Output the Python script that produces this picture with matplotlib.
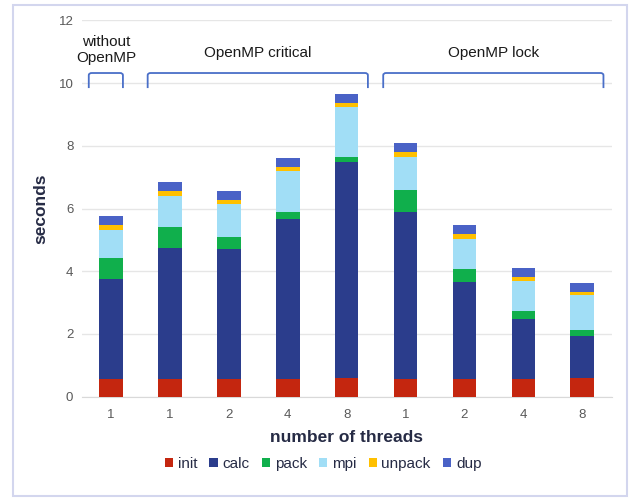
import numpy as np
import matplotlib.pyplot as plt
from matplotlib.path import Path
from matplotlib.patches import PathPatch, Rectangle

plt.rcParams['font.family'] = ['Liberation Sans', 'DejaVu Sans']

# data (seconds), one value per bar
threads = ['1', '1', '2', '4', '8', '1', '2', '4', '8']
init = [0.55, 0.55, 0.55, 0.55, 0.60, 0.55, 0.55, 0.55, 0.60]
calc = [3.20, 4.19, 4.16, 5.11, 6.88, 5.33, 3.12, 1.93, 1.34]
pack = [0.68, 0.68, 0.37, 0.23, 0.17, 0.71, 0.40, 0.24, 0.19]
mpi = [0.88, 0.98, 1.05, 1.30, 1.60, 1.06, 0.97, 0.97, 1.10]
unpack = [0.17, 0.17, 0.13, 0.12, 0.10, 0.15, 0.14, 0.14, 0.11]
dup = [0.28, 0.26, 0.29, 0.29, 0.29, 0.28, 0.28, 0.27, 0.29]

series = [('init', init, '#C4260F'),
          ('calc', calc, '#2B3D8C'),
          ('pack', pack, '#10AF4C'),
          ('mpi', mpi, '#A1DEF6'),
          ('unpack', unpack, '#FFC000'),
          ('dup', dup, '#4A62C6')]

# group labels over the bars: (label, first bar, last bar)
groups = [('without\nOpenMP', 0, 0), ('OpenMP critical', 1, 4), ('OpenMP lock', 5, 8)]

fig = plt.figure(figsize=(6.29, 4.98), dpi=100)
ax = fig.add_axes([0.1299, 0.2034, 0.8426, 0.7558])

x = np.arange(len(threads))
bottom = np.zeros(len(threads))
for name, vals, color in series:
    ax.bar(x, vals, 0.4, bottom=bottom, color=color, label=name, zorder=3)
    bottom += np.array(vals)

ax.set_xlim(-0.5, len(threads) - 0.5)
ax.set_ylim(0, 12)
ax.set_yticks(range(0, 13, 2))
ax.set_xticks(x)
ax.set_xticklabels(threads)
ax.tick_params(length=0, labelsize=9.5, colors='#595959', pad=9)
ax.tick_params(axis='y', pad=6)
ax.grid(axis='y', color='#E6E6E6', linewidth=1, zorder=0)
for s in ['top', 'right', 'left']:
    ax.spines[s].set_visible(False)
ax.spines['bottom'].set_color('#D9D9D9')

ax.set_xlabel('number of threads', fontsize=12.5, fontweight='bold', color='#262B45', labelpad=6)
ax.set_ylabel('seconds', fontsize=12.5, fontweight='bold', color='#262B45', labelpad=7)

# brackets with small rounded corners
top, leg, rx, ry = 10.32, 9.84, 0.05, 0.07
for label, a, b in groups:
    x0 = a - 0.38
    x1 = b + (0.2 if a == b else 0.36)
    verts = [(x0, leg), (x0, top - ry), (x0, top), (x0 + rx, top),
             (x1 - rx, top), (x1, top), (x1, top - ry), (x1, leg)]
    codes = [Path.MOVETO, Path.LINETO, Path.CURVE3, Path.CURVE3,
             Path.LINETO, Path.CURVE3, Path.CURVE3, Path.LINETO]
    ax.add_patch(PathPatch(Path(verts, codes), fill=False, edgecolor='#4A6FC8',
                           linewidth=1.3, zorder=4, clip_on=False))
    ty = 11.05 if '\n' in label else 10.95
    ax.text((x0 + x1) / 2, ty, label, ha='center', va='center', fontsize=11,
            color='#1A1A1A', linespacing=1.2)

fig.legend(loc='center', bbox_to_anchor=(323 / 629, 1 - 464 / 498), ncol=6, frameon=False,
           fontsize=11, handlelength=0.55, handleheight=0.55, handletextpad=0.3,
           columnspacing=0.8, labelcolor='#262B45')

fig.patches.append(Rectangle((13 / 629, 2 / 498), 614 / 629, 491 / 498, transform=fig.transFigure,
                             fill=False, edgecolor='#D3D6EE', linewidth=1.5))

fig.savefig('out.png', dpi=100)
